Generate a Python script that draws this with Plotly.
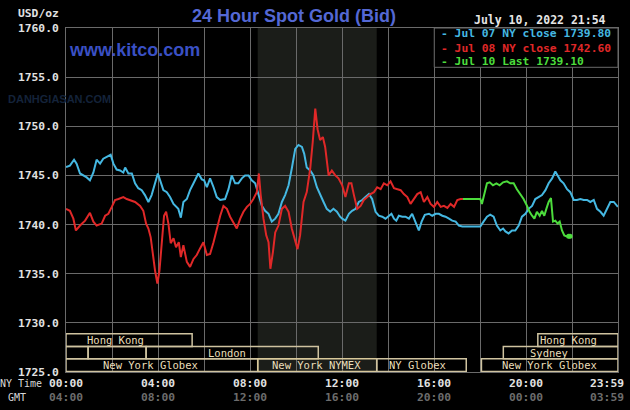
import plotly.graph_objects as go

# ---------------- data ----------------
blue_t = [0, 0.17, 0.35, 0.46, 0.61, 0.75, 0.9, 1.04, 1.19, 1.33, 1.48, 1.62, 1.77, 1.94, 2.06, 2.2, 2.35, 2.49,
          2.57, 2.71, 2.86, 3.0, 3.14, 3.29, 3.43, 3.58, 3.72, 3.87, 3.99, 4.09, 4.23, 4.38, 4.52, 4.67, 4.81,
          4.88, 4.99, 5.1, 5.25, 5.39, 5.54, 5.75, 5.9, 6.0, 6.12, 6.26, 6.41, 6.55, 6.7, 6.91, 7.06, 7.2, 7.35,
          7.49, 7.64, 7.78, 7.93, 8.07, 8.22, 8.36, 8.51, 8.65, 8.8, 8.94, 9.09, 9.23, 9.38, 9.52, 9.67, 9.81,
          9.96, 10.1, 10.25, 10.35, 10.46, 10.61, 10.75, 10.9, 11.04, 11.19, 11.33, 11.48, 11.62, 11.77, 11.91,
          12.0, 12.14, 12.29, 12.43, 12.58, 12.72, 12.87, 13.01, 13.16, 13.3, 13.45, 13.59, 13.74, 13.88, 14.03,
          14.14, 14.25, 14.35, 14.46, 14.61, 14.75, 14.9, 15.04, 15.19, 15.33, 15.45, 15.59, 15.77, 15.91, 16.06,
          16.2, 16.35, 16.49, 16.64, 16.78, 16.93, 17.07, 17.22, 18.0, 18.14, 18.29, 18.43, 18.58, 18.72, 18.87,
          18.99, 19.09, 19.23, 19.38, 19.52, 19.67, 19.81, 19.96, 20.1, 20.25, 20.39, 20.54, 20.68, 20.83, 20.97,
          21.12, 21.26, 21.36, 21.48, 21.62, 21.77, 21.91, 22.06, 22.2, 22.35, 22.49, 22.64, 22.78, 22.93, 23.07,
          23.22, 23.36, 23.51, 23.65, 23.8, 23.94, 23.98]
blue_v = [1745.85, 1746.0, 1746.6, 1746.2, 1745.2, 1745.0, 1744.8, 1744.5, 1745.3, 1746.6, 1746.2, 1746.7, 1746.9,
          1747.1, 1746.2, 1745.6, 1745.5, 1745.3, 1745.8, 1745.2, 1745.2, 1744.2, 1743.7, 1743.5, 1743.0, 1742.3,
          1743.0, 1744.2, 1745.2, 1744.5, 1743.5, 1743.3, 1742.8, 1742.1, 1741.8, 1741.6, 1740.7, 1742.3, 1742.6,
          1743.5, 1744.2, 1745.2, 1744.6, 1744.5, 1743.8, 1744.7, 1743.8, 1742.8, 1742.5, 1742.6, 1743.6, 1745.0,
          1744.2, 1744.2, 1744.7, 1745.0, 1745.0, 1744.5, 1744.2, 1743.0, 1741.9, 1741.4, 1741.1, 1740.3, 1740.6,
          1741.1, 1742.3, 1743.0, 1744.0, 1745.7, 1747.7, 1748.1, 1747.9, 1747.2, 1745.8, 1745.5, 1745.0, 1743.8,
          1743.0, 1742.3, 1741.6, 1741.3, 1741.6, 1741.3, 1740.8, 1740.6, 1740.4, 1741.1, 1741.4, 1741.6, 1742.3,
          1742.5, 1742.8, 1743.1, 1742.6, 1741.3, 1740.9, 1740.8, 1740.6, 1740.9, 1741.1, 1740.6, 1740.4, 1740.9,
          1740.8, 1740.8, 1740.6, 1741.1, 1740.3, 1739.4, 1740.3, 1741.0, 1741.1, 1740.9, 1741.1, 1741.1, 1740.9,
          1740.8, 1740.6, 1740.4, 1740.3, 1739.9, 1739.8, 1739.8, 1740.3, 1740.8, 1741.0, 1740.8, 1739.9, 1739.4,
          1739.6, 1739.3, 1739.1, 1739.4, 1739.4, 1739.9, 1740.8, 1741.1, 1741.6, 1741.9, 1742.6, 1742.8, 1743.0,
          1743.5, 1744.2, 1744.7, 1745.4, 1745.0, 1744.5, 1744.2, 1743.6, 1743.3, 1742.5, 1742.5, 1742.6, 1742.5,
          1742.5, 1742.3, 1742.5, 1741.6, 1741.3, 1740.9, 1741.6, 1742.3, 1742.3, 1741.9, 1741.8]

red_t = [0, 0.17, 0.32, 0.43, 0.61, 0.83, 1.04, 1.19, 1.33, 1.55, 1.7, 1.84, 1.99, 2.13, 2.28, 2.49, 2.64, 2.78,
         3.0, 3.22, 3.36, 3.48, 3.58, 3.68, 3.77, 3.87, 3.97, 4.06, 4.16, 4.26, 4.35, 4.45, 4.55, 4.67, 4.78, 4.9,
         4.99, 5.1, 5.25, 5.39, 5.54, 5.68, 5.83, 5.97, 6.12, 6.26, 6.41, 6.55, 6.7, 6.84, 6.99, 7.13, 7.28, 7.42,
         7.57, 7.71, 7.86, 8.0, 8.14, 8.29, 8.38, 8.46, 8.58, 8.7, 8.8, 8.88, 8.99, 9.09, 9.23, 9.38, 9.52, 9.67,
         9.81, 9.96, 10.06, 10.17, 10.32, 10.46, 10.61, 10.72, 10.83, 10.93, 11.04, 11.16, 11.26, 11.41, 11.55,
         11.7, 11.84, 12.0, 12.14, 12.29, 12.4, 12.51, 12.65, 12.8, 12.94, 13.09, 13.23, 13.38, 13.52, 13.67,
         13.81, 13.96, 14.1, 14.25, 14.39, 14.54, 14.68, 14.83, 14.97, 15.12, 15.26, 15.41, 15.55, 15.7, 15.84,
         15.99, 16.13, 16.28, 16.42, 16.57, 16.71, 16.86, 17.0, 17.14, 17.25]
red_v = [1741.6, 1741.4, 1740.6, 1739.4, 1739.9, 1740.4, 1741.2, 1740.3, 1739.9, 1740.1, 1740.9, 1741.1, 1741.8,
         1742.5, 1742.6, 1742.8, 1742.6, 1742.5, 1742.3, 1741.9, 1741.4, 1740.1, 1739.6, 1738.7, 1737.0, 1735.3,
         1734.0, 1735.3, 1738.1, 1740.9, 1741.3, 1740.1, 1738.1, 1738.6, 1737.7, 1738.2, 1736.7, 1737.9, 1736.2,
         1735.7, 1736.5, 1736.9, 1737.6, 1738.2, 1736.9, 1737.0, 1738.2, 1739.6, 1740.9, 1741.9, 1741.6, 1740.8,
         1740.1, 1739.6, 1740.6, 1741.3, 1741.8, 1742.1, 1742.6, 1743.3, 1745.2, 1743.0, 1740.6, 1738.9, 1738.2,
         1735.5, 1737.2, 1739.2, 1739.9, 1741.6, 1741.9, 1741.3, 1739.6, 1738.2, 1737.5, 1738.9, 1742.3, 1743.3,
         1745.7, 1748.4, 1751.8, 1749.7, 1748.6, 1748.9, 1747.9, 1745.0, 1745.5, 1745.0, 1744.7, 1744.0, 1742.8,
         1744.2, 1744.2, 1743.0, 1741.6, 1741.9, 1742.5, 1742.8, 1743.1, 1743.3, 1743.8, 1743.6, 1744.2, 1744.0,
         1744.4, 1743.7, 1743.6, 1743.5, 1743.1, 1742.8, 1742.1, 1742.6, 1743.1, 1743.3, 1742.3, 1742.8, 1742.1,
         1741.8, 1742.3, 1741.8, 1741.9, 1741.7, 1742.1, 1741.8, 1742.5, 1742.6, 1742.6]

green_t = [17.25, 18.0, 18.07, 18.17, 18.29, 18.41, 18.55, 18.7, 18.84, 18.99, 19.16, 19.3, 19.45, 19.59, 19.74,
           19.88, 20.03, 20.14, 20.25, 20.35, 20.46, 20.58, 20.68, 20.78, 20.87, 20.97, 21.07, 21.16, 21.26, 21.36,
           21.45, 21.55, 21.65, 21.74, 21.84, 21.9]
green_v = [1742.6, 1742.6, 1742.1, 1743.1, 1744.2, 1744.3, 1744.0, 1744.2, 1744.0, 1744.3, 1744.4, 1744.2, 1744.2,
           1743.6, 1743.1, 1742.6, 1741.9, 1741.3, 1740.9, 1740.6, 1741.3, 1740.9, 1741.4, 1740.9, 1741.6, 1742.3,
           1742.7, 1740.3, 1740.4, 1740.1, 1740.3, 1739.4, 1738.9, 1738.8, 1738.8, 1738.8]

legend_labels = ["Jul 07 NY close 1739.80", "Jul 08 NY close 1742.60", "Jul 10 Last 1739.10"]

ny_ticks = ["00:00", "04:00", "08:00", "12:00", "16:00", "20:00", "23:59"]
gmt_ticks = ["04:00", "08:00", "12:00", "16:00", "20:00", "00:00", "03:59"]
tick_hours = [0, 4, 8, 12, 16, 20, 23.983]

y_ticks = [1725, 1730, 1735, 1740, 1745, 1750, 1755, 1760]

# market sessions: name, row (0 = top), start hour, end hour, label hour
sess_name = ["Hong Kong", "", "", "London", "New York Globex", "New York NYMEX", "NY Globex",
             "New York Globex", "Sydney", "Hong Kong"]
sess_row = [0, 1, 1, 1, 2, 2, 2, 2, 1, 0]
sess_start = [0, 0, 0.96, 3.48, 0, 8.33, 13.5, 18.05, 19.0, 20.5]
sess_end = [5.48, 0.96, 3.48, 10.96, 8.33, 13.5, 17.39, 23.983, 23.983, 23.983]
sess_label = [2.15, None, None, 7.0, 3.65, 10.9, 15.25, 21.0, 21.0, 21.85]

nymex_start, nymex_end = 8.33, 13.5

# ---------------- styling ----------------
BLUE = "#45b8e2"
RED = "#e02828"
GREEN = "#4cdc3c"
GRID = "#6a6a6a"
TAN = "#cfc3a0"
MONO = "DejaVu Sans Mono"

fig = go.Figure()
fig.add_trace(go.Scatter(x=blue_t, y=blue_v, mode="lines", line=dict(color=BLUE, width=2), hoverinfo="skip"))
fig.add_trace(go.Scatter(x=red_t, y=red_v, mode="lines", line=dict(color=RED, width=2), hoverinfo="skip"))
fig.add_trace(go.Scatter(x=green_t, y=green_v, mode="lines", line=dict(color=GREEN, width=2), hoverinfo="skip"))
fig.add_trace(go.Scatter(x=green_t[-2:], y=green_v[-2:], mode="markers",
                         marker=dict(color=GREEN, size=5), hoverinfo="skip"))

shapes = []
# NYMEX floor shading
shapes.append(dict(type="rect", xref="x", yref="y", x0=nymex_start, x1=nymex_end, y0=1725, y1=1760,
                   fillcolor="#1b1d19", line=dict(width=0), layer="below"))

# session boxes
row_top = [1728.9, 1727.6, 1726.35]
row_bot = [1727.6, 1726.35, 1725.05]
annotations = []
for name, r, s, e, lx in zip(sess_name, sess_row, sess_start, sess_end, sess_label):
    col = "#d8c89a" if "NYMEX" in name else TAN
    shapes.append(dict(type="rect", xref="x", yref="y", x0=s, x1=e, y0=row_bot[r], y1=row_top[r],
                       line=dict(color=col, width=1.5), fillcolor="rgba(0,0,0,0)", layer="above"))
    if name:
        annotations.append(dict(x=lx, y=(row_top[r] + row_bot[r]) / 2, xref="x", yref="y", text=name,
                                showarrow=False, xanchor="center", yanchor="middle",
                                font=dict(family=MONO, size=10.5, color="#eadfba")))

# legend box
shapes.append(dict(type="rect", xref="x", yref="y", x0=16.0, x1=23.983, y0=1756.0, y1=1760,
                   fillcolor="#000000", line=dict(color=GRID, width=1), layer="above"))
leg_colors = [BLUE, RED, GREEN]
leg_y = [0.983, 0.940, 0.903]
for lab, c, yy in zip(legend_labels, leg_colors, leg_y):
    annotations.append(dict(x=16.22, y=yy, xref="x", yref="paper", text="- " + lab, showarrow=False,
                            xanchor="left", yanchor="middle",
                            font=dict(family=MONO, size=11.3, color=c, weight="bold")))

# x tick labels (NY time and GMT rows)
for h, ny, gm in zip(tick_hours, ny_ticks, gmt_ticks):
    shift = -11 if h > 23 else 0
    annotations.append(dict(x=h, y=-0.032, xref="x", yref="paper", text=ny, showarrow=False,
                            xanchor="center", yanchor="middle", xshift=shift,
                            font=dict(family=MONO, size=11.3, color="#e2e2e2", weight="bold")))
    annotations.append(dict(x=h, y=-0.073, xref="x", yref="paper", text=gm, showarrow=False,
                            xanchor="center", yanchor="middle", xshift=shift,
                            font=dict(family=MONO, size=11.3, color="#6c6c6c", weight="bold")))

annotations += [
    dict(x=-0.039, y=-0.032, xref="paper", yref="paper", text="NY Time", showarrow=False,
         xanchor="right", yanchor="middle", font=dict(family=MONO, size=10, color="#d8d8d8")),
    dict(x=-0.068, y=-0.073, xref="paper", yref="paper", text="GMT", showarrow=False,
         xanchor="right", yanchor="middle", font=dict(family=MONO, size=10, color="#d8d8d8")),
    dict(x=-0.009, y=1.043, xref="paper", yref="paper", text="USD/oz", showarrow=False,
         xanchor="right", yanchor="middle", font=dict(family=MONO, size=11.3, color="#e2e2e2", weight="bold")),
    dict(x=0.982, y=1.023, xref="paper", yref="paper", text="July 10, 2022 21:54", showarrow=False,
         xanchor="right", yanchor="middle", font=dict(family=MONO, size=11.5, color="#e6e6e6", weight="bold")),
    dict(x=0.413, y=1.035, xref="paper", yref="paper", text="24 Hour Spot Gold (Bid)", showarrow=False,
         xanchor="center", yanchor="middle",
         font=dict(family="Liberation Sans", size=18, color="#5468d4", weight="bold")),
    dict(x=0.002, y=0.936, xref="paper", yref="paper", text="www.kitco.com", showarrow=False,
         xanchor="left", yanchor="middle",
         font=dict(family="Liberation Sans", size=18, color="#3a50c4", weight="bold")),
    dict(x=-0.108, y=0.795, xref="paper", yref="paper", text="DANHGIASAN.COM", showarrow=False,
         xanchor="left", yanchor="middle",
         font=dict(family="Liberation Sans", size=11, color="#14233a", weight="bold")),
]

fig.update_layout(
    width=630, height=410,
    margin=dict(l=66, r=12, t=28, b=38),
    paper_bgcolor="#000000", plot_bgcolor="#000000",
    showlegend=False,
    shapes=shapes, annotations=annotations,
    xaxis=dict(range=[0, 23.983], dtick=2, tick0=0, showgrid=True, gridcolor=GRID, gridwidth=1,
               showticklabels=False, zeroline=False, showline=True, linecolor=GRID, mirror=True, ticks=""),
    yaxis=dict(range=[1725, 1760], tickvals=y_ticks, ticktext=[f"{v:.1f}" for v in y_ticks],
               showgrid=True, gridcolor=GRID, gridwidth=1, zeroline=False, showline=True, linecolor=GRID,
               mirror=True, ticks="", ticklabelstandoff=4,
               tickfont=dict(family=MONO, size=11.3, color="#e2e2e2", weight="bold")),
)

fig.write_html("out.html")
